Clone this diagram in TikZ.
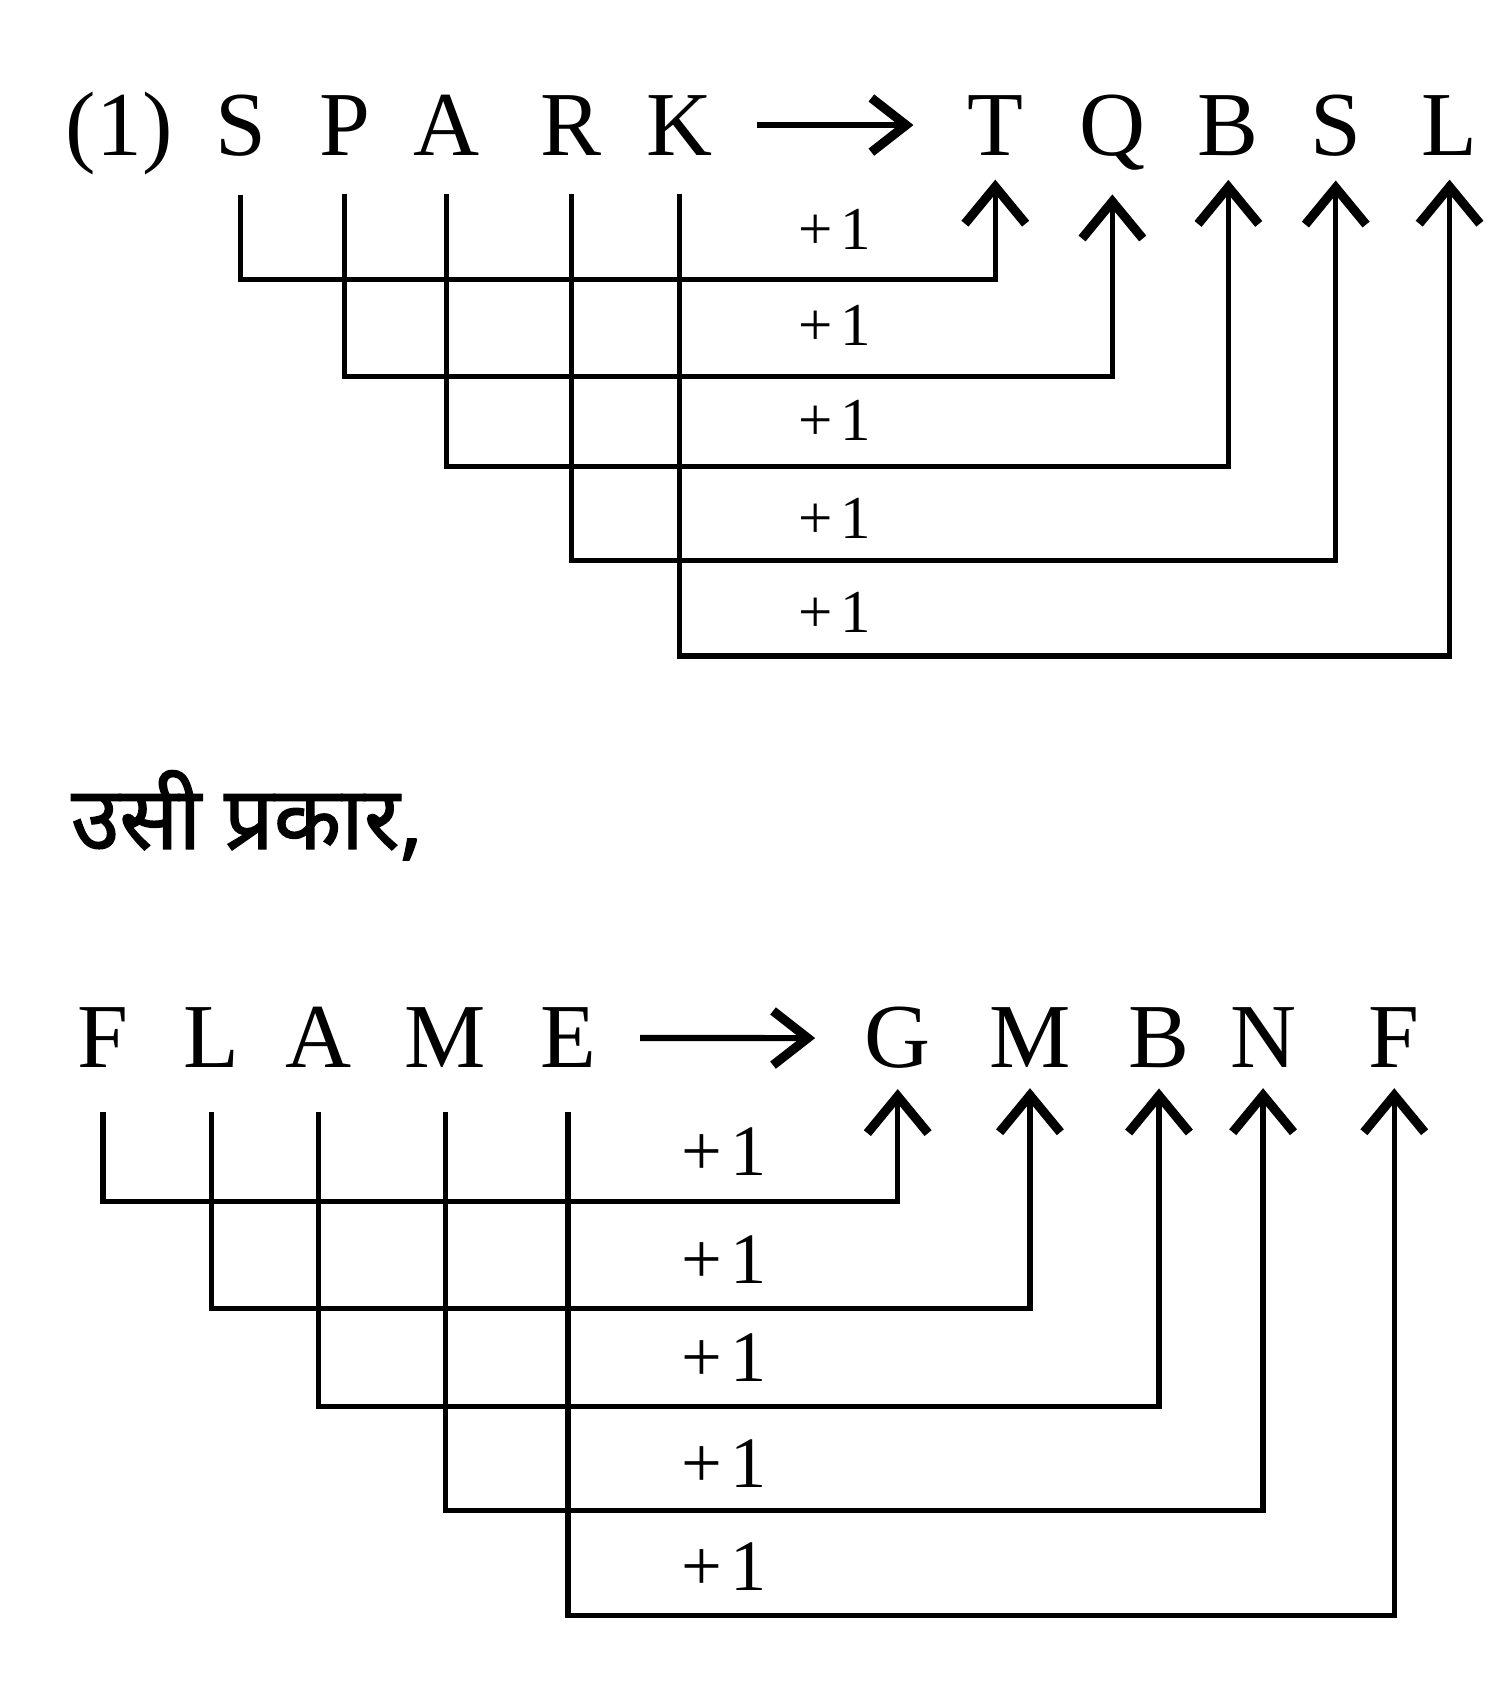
\documentclass[tikz,border=0pt]{standalone}
\usepackage{fontspec}
\setmainfont{Liberation Serif}
\newfontfamily\hindifont[Script=Devanagari,FakeBold=1.5]{Noto Sans}
\usetikzlibrary{arrows.meta}

\tikzset{
  letter/.style={inner sep=0pt, anchor=base, font=\fontsize{24pt}{24pt}\selectfont},
  plusone/.style={inner sep=0pt, font=\fontsize{16pt}{16pt}\selectfont},
  link/.style={line width=1.4pt, -{Straight Barb[length=3.4mm,width=5.6mm,line width=2.4pt]}},
  maparrow/.style={line width=1.6pt, -{Straight Barb[length=3.2mm,width=5mm,line width=2.4pt]}}
}

\begin{document}
\begin{tikzpicture}
	\def\srcgap{3.5mm}   % gap below source letter
	\def\tipgap{2.2mm}   % gap below target letter
\useasboundingbox (0,0) rectangle (13.87,15.68);

% (1) SPARK -> TQBSL
\node[letter] (one) at (1.10,14.25) {(1)};
\node[letter] (s1) at (2.22,14.25) {S};
\node[letter] (s2) at (3.18,14.25) {P};
\node[letter] (s3) at (4.12,14.25) {A};
\node[letter] (s4) at (5.27,14.25) {R};
\node[letter] (s5) at (6.27,14.25) {K};

\node[letter] (t1) at (9.18,14.25) {T};
\node[letter] (t2) at (10.26,14.25) {Q};
\node[letter] (t3) at (11.33,14.25) {B};
\node[letter] (t4) at (12.32,14.25) {S};
\node[letter] (t5) at (13.37,14.25) {L};

\draw[maparrow] ([xshift=4mm]s5.east) -- ([xshift=-4.9mm]t1.west);

\coordinate (a1) at (0,13.10);
\coordinate (a2) at (0,12.21);
\coordinate (a3) at (0,11.38);
\coordinate (a4) at (0,10.51);
\coordinate (a5) at (0,9.63);

\draw[link] ([yshift=-\srcgap]s1.south) -- (s1 |- a1) -| ([yshift=-\tipgap]t1.south);
\draw[link] ([yshift=-\srcgap]s2.south) -- (s2 |- a2) -| ([yshift=-\tipgap]t2.south);
\draw[link] ([yshift=-\srcgap]s3.south) -- (s3 |- a3) -| ([yshift=-\tipgap]t3.south);
\draw[link] ([yshift=-\srcgap]s4.south) -- (s4 |- a4) -| ([yshift=-\tipgap]t4.south);
\draw[link] ([yshift=-\srcgap]s5.south) -- (s5 |- a5) -| ([yshift=-\tipgap]t5.south);

\node[plusone] (p1) at (7.70,13.56) {+\kern2pt1};
\node[plusone] (p2) at (7.70,12.68) {+\kern2pt1};
\node[plusone] (p3) at (7.70,11.80) {+\kern2pt1};
\node[plusone] (p4) at (7.70,10.90) {+\kern2pt1};
\node[plusone] (p5) at (7.70,10.03) {+\kern2pt1};

% usi prakar
\node[anchor=base west, inner sep=0pt, font=\hindifont\fontsize{23pt}{23pt}\selectfont] (similarly) at (0.65,7.85) {उसी प्रकार,};

% FLAME -> GMBNF
\node[letter] (f1) at (0.95,5.83) {F};
\node[letter] (f2) at (1.95,5.83) {L};
\node[letter] (f3) at (2.94,5.83) {A};
\node[letter] (f4) at (4.11,5.83) {M};
\node[letter] (f5) at (5.24,5.83) {E};

\node[letter] (g1) at (8.28,5.83) {G};
\node[letter] (g2) at (9.50,5.83) {M};
\node[letter] (g3) at (10.69,5.83) {B};
\node[letter] (g4) at (11.65,5.83) {N};
\node[letter] (g5) at (12.86,5.83) {F};

\draw[maparrow] ([xshift=4mm]f5.east) -- ([xshift=-4.5mm]g1.west);

\coordinate (b1) at (0,4.60);
\coordinate (b2) at (0,3.61);
\coordinate (b3) at (0,2.71);
\coordinate (b4) at (0,1.75);
\coordinate (b5) at (0,0.78);

\draw[link] ([yshift=-4mm]f1.south) -- (f1 |- b1) -| ([yshift=-1.8mm]g1.south);
\draw[link] ([yshift=-4mm]f2.south) -- (f2 |- b2) -| ([yshift=-1.8mm]g2.south);
\draw[link] ([yshift=-4mm]f3.south) -- (f3 |- b3) -| ([yshift=-1.8mm]g3.south);
\draw[link] ([yshift=-4mm]f4.south) -- (f4 |- b4) -| ([yshift=-1.8mm]g4.south);
\draw[link] ([yshift=-4mm]f5.south) -- (f5 |- b5) -| ([yshift=-1.8mm]g5.south);

\node[plusone, font=\fontsize{19pt}{19pt}\selectfont] (q1) at (6.68,5.06) {+\kern2pt1};
\node[plusone, font=\fontsize{19pt}{19pt}\selectfont] (q2) at (6.68,4.06) {+\kern2pt1};
\node[plusone, font=\fontsize{19pt}{19pt}\selectfont] (q3) at (6.68,3.16) {+\kern2pt1};
\node[plusone, font=\fontsize{19pt}{19pt}\selectfont] (q4) at (6.68,2.18) {+\kern2pt1};
\node[plusone, font=\fontsize{19pt}{19pt}\selectfont] (q5) at (6.68,1.23) {+\kern2pt1};

\end{tikzpicture}
\end{document}
